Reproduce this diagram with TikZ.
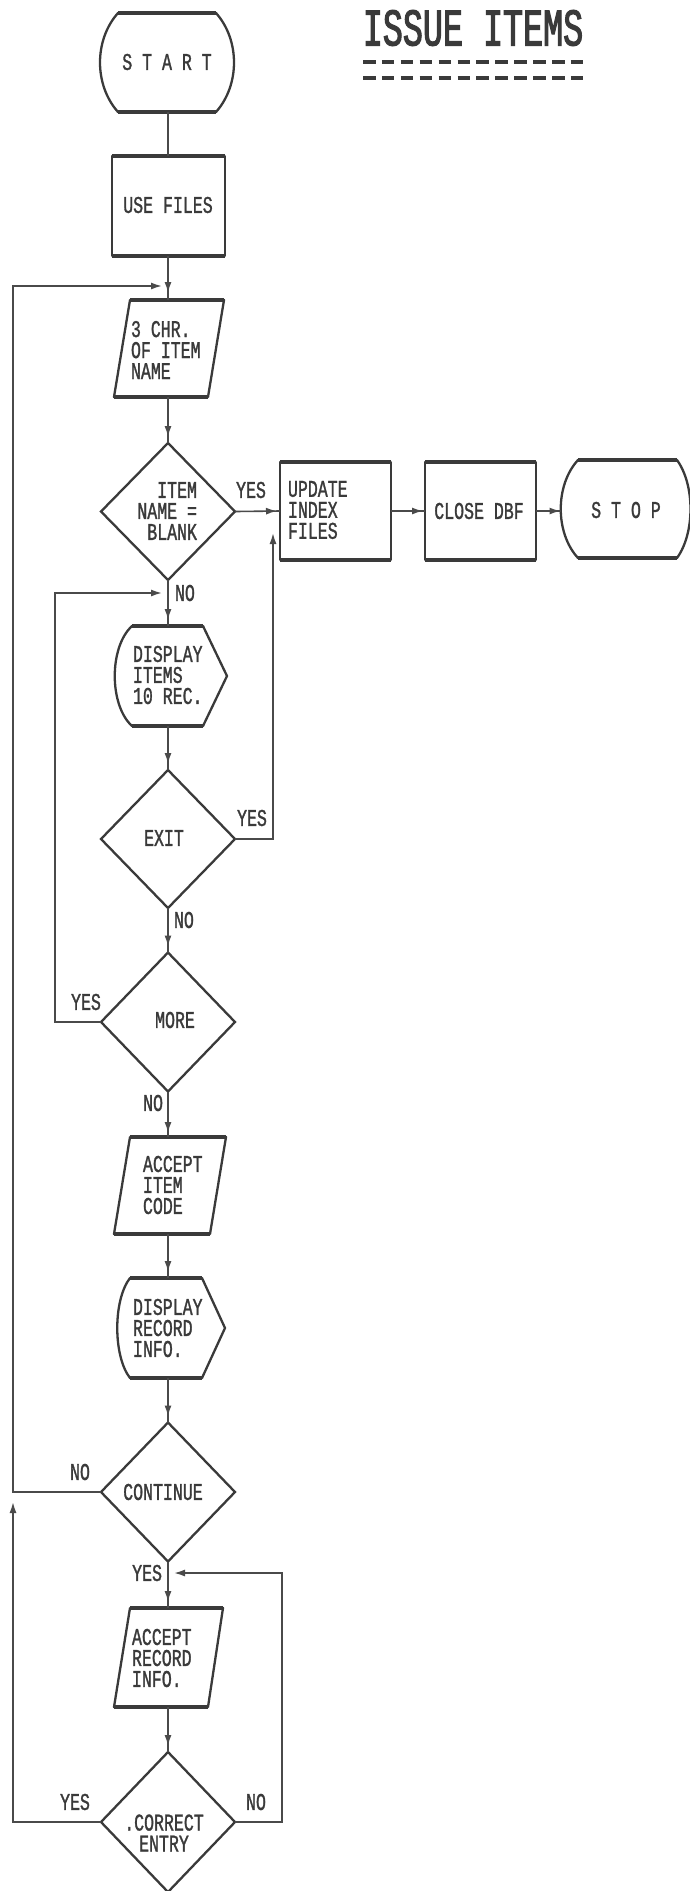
\documentclass[tikz,border=0pt]{standalone}
\usepackage{fontspec}
\usetikzlibrary{shapes.geometric,arrows.meta,decorations.markings}
\newfontfamily\pltfont[FakeStretch=0.69,FakeBold=1.2]{Liberation Mono}
\newfontfamily\titlefont[FakeStretch=0.63,FakeBold=2]{Liberation Mono}
\definecolor{ink}{HTML}{3A3A3A}
\definecolor{wire}{HTML}{4A4A4A}
\tikzset{ah/.tip={Latex[length=11pt,width=7pt]}}
\begin{document}
\begin{tikzpicture}[x=1pt,y=-1pt,
  outline/.style={draw=ink,line width=2.3pt,line join=round},
  heavy/.style={draw=ink,line width=4pt},
  hold/.style={draw=none,inner sep=0pt,outer sep=0pt,minimum width=100pt},
  dia/.style={shape=diamond,draw=ink,line width=2.3pt,inner sep=0pt,outer sep=0pt,minimum width=134pt},
  txt/.style={font=\pltfont\fontsize{24}{21}\selectfont,text=ink,inner sep=0pt,outer sep=0pt},
  wireline/.style={draw=wire,line width=1.6pt},
  flow/.style={wireline,postaction={decorate},decoration={markings,mark=at position -#1 with {\arrow{ah}}}},
  flow/.default=6pt,
  loopend/.style={wireline,-{ah}}
]
\fill[white] (0,0) rectangle (689,1891);
\useasboundingbox (0,0) rectangle (689,1891);

% ---------- title ----------
\node[font=\titlefont\fontsize{53}{53}\selectfont,text=ink,inner sep=0pt] (title) at (473,28) {ISSUE ITEMS};
\draw[ink,line width=4pt,dash pattern=on 12.5pt off 6.4pt] (363,62) -- (583,62);
\draw[ink,line width=4pt,dash pattern=on 12.5pt off 6.4pt] (363,78) -- (583,78);

% ---------- anchor holders and diamonds ----------
\node[hold,minimum height=99pt] (start) at (168,62.5) {};
\node[hold,minimum height=100pt] (use) at (168,206) {};
\node[hold,minimum height=97pt] (chr) at (168,348.5) {};
\node[dia,minimum height=137pt] (item) at (168,511.5) {};
\node[hold,minimum width=111pt,minimum height=98pt] (update) at (335.5,511) {};
\node[hold,minimum width=111pt,minimum height=98pt] (close) at (480.5,511) {};
\node[hold,minimum width=128pt,minimum height=98pt] (stop) at (625,511) {};
\node[hold,minimum height=100pt] (disp) at (168,676) {};
\node[dia,minimum height=138pt] (exit) at (168,839) {};
\node[dia,minimum height=139pt] (more) at (168,1022) {};
\node[hold,minimum height=97pt] (accitem) at (168,1185.5) {};
\node[hold,minimum height=100pt] (disprec) at (168,1328) {};
\node[dia,minimum height=139pt] (cont) at (168,1492) {};
\node[hold,minimum height=99pt] (accrec) at (168,1657.5) {};
\node[dia,minimum height=140pt] (correct) at (168,1822) {};

% ---------- drawn shapes ----------
% START terminal
\draw[outline] (118,13) -- (216,13) .. controls (240,40) and (240,85) .. (216,112) -- (118,112) .. controls (94,85) and (94,40) .. (118,13) -- cycle;
\draw[heavy] (118,13) -- (216,13); \draw[heavy] (118,112) -- (216,112);
% USE FILES
\draw[outline] (112,156) rectangle (225,256);
\draw[heavy] (112,156) -- (225,156); \draw[heavy] (112,256) -- (225,256);
% 3 CHR parallelogram
\draw[outline] (130,300) -- (224,300) -- (208,397) -- (114,397) -- cycle;
\draw[heavy] (130,300) -- (224,300); \draw[heavy] (114,397) -- (208,397);
% UPDATE
\draw[outline] (280,462) rectangle (391,560);
\draw[heavy] (280,462) -- (391,462); \draw[heavy] (280,560) -- (391,560);
% CLOSE
\draw[outline] (425,462) rectangle (536,560);
\draw[heavy] (425,462) -- (536,462); \draw[heavy] (425,560) -- (536,560);
% STOP terminal
\draw[outline] (578,460) -- (677,460) .. controls (695,485) and (695,533) .. (677,558) -- (578,558) .. controls (555,533) and (555,485) .. (578,460) -- cycle;
\draw[heavy] (578,460) -- (677,460); \draw[heavy] (578,558) -- (677,558);
% DISPLAY ITEMS
\draw[outline] (132,626) -- (203,626) -- (227,676) -- (203,726) -- (132,726) .. controls (109,705) and (109,647) .. (132,626) -- cycle;
\draw[heavy] (132,626) -- (203,626); \draw[heavy] (132,726) -- (203,726);
% ACCEPT ITEM CODE
\draw[outline] (130,1137) -- (226,1137) -- (210,1234) -- (114,1234) -- cycle;
\draw[heavy] (130,1137) -- (226,1137); \draw[heavy] (114,1234) -- (210,1234);
% DISPLAY RECORD INFO
\draw[outline] (130,1278) -- (202,1278) -- (225,1328) -- (202,1378) -- (130,1378) .. controls (113,1356) and (113,1300) .. (130,1278) -- cycle;
\draw[heavy] (130,1278) -- (202,1278); \draw[heavy] (130,1378) -- (202,1378);
% ACCEPT RECORD INFO
\draw[outline] (130,1608) -- (223,1608) -- (208,1707) -- (114,1707) -- cycle;
\draw[heavy] (130,1608) -- (223,1608); \draw[heavy] (114,1707) -- (208,1707);

% ---------- texts ----------
\node[txt] (tstart) at (167,62) {S T A R T};
\node[txt] (tuse) at (168,205) {USE FILES};
\node[txt,align=left,anchor=west] (tchr) at (131,350) {3 CHR.\\OF ITEM\\NAME};
\node[txt,align=right,anchor=east] (titem) at (197,511) {ITEM\\NAME =\\BLANK};
\node[txt] (yes1) at (251,490) {YES};
\node[txt,align=left,anchor=west] (tupdate) at (288,510) {UPDATE\\INDEX\\FILES};
\node[txt] (tclose) at (479,511) {CLOSE DBF};
\node[txt] (tstop) at (626,510) {S T O P};
\node[txt,anchor=west] (no1) at (175,593) {NO};
\node[txt,align=left,anchor=west] (tdisp) at (133,675) {DISPLAY\\ITEMS\\10 REC.};
\node[txt] (texit) at (164,838) {EXIT};
\node[txt] (yes2) at (252,818) {YES};
\node[txt,anchor=west] (no2) at (174,920) {NO};
\node[txt] (tmore) at (175,1020) {MORE};
\node[txt] (yes3) at (86,1002) {YES};
\node[txt,anchor=east] (no3) at (163,1103) {NO};
\node[txt,align=left,anchor=west] (taccitem) at (143,1185) {ACCEPT\\ITEM\\CODE};
\node[txt,align=left,anchor=west] (tdisprec) at (133,1328) {DISPLAY\\RECORD\\INFO.};
\node[txt] (tcont) at (163,1492) {CONTINUE};
\node[txt] (no4) at (80,1472) {NO};
\node[txt,anchor=east] (yes4) at (162,1573) {YES};
\node[txt,align=left,anchor=west] (taccrec) at (132,1658) {ACCEPT\\RECORD\\INFO.};
\node[txt,align=center] (tcorrect) at (164,1833) {.CORRECT\\ENTRY};
\node[txt] (yes5) at (75,1802) {YES};
\node[txt] (no5) at (256,1802) {NO};

% ---------- free ends ----------
\coordinate (L1) at (13,286);
\coordinate (T1) at (162,286);
\coordinate (L2) at (55,593);
\coordinate (T2) at (162,593);
\coordinate (R1) at (273,839);
\coordinate (T3) at (273,533);
\coordinate (L3) at (13,1822);
\coordinate (T4) at (13,1502);
\coordinate (R2) at (282,1822);
\coordinate (R3) at (282,1573);
\coordinate (T5) at (174,1573);

% ---------- connectors ----------
\draw[wireline] (start.south) -- (use.north);
\draw[flow=7pt] (use.south) -- (chr.north);
\draw[flow] (chr.south) -- (item.north);
\draw[flow=3pt] (item.east) -- (update.west);
\draw[flow=2pt] (update.east) -- (close.west);
\draw[flow=0.5pt] (close.east) -- (stop.west);
\draw[flow] (item.south) -- (disp.north);
\draw[flow] (disp.south) -- (exit.north);
\draw[flow] (exit.south) -- (more.north);
\draw[flow=4pt] (more.south) -- (accitem.north);
\draw[flow] (accitem.south) -- (disprec.north);
\draw[flow] (disprec.south) -- (cont.north);
\draw[flow] (cont.south) -- (accrec.north);
\draw[flow] (accrec.south) -- (correct.north);
\draw[loopend] (cont.west) -| (L1) -- (T1);
\draw[loopend] (more.west) -| (L2) -- (T2);
\draw[loopend] (exit.east) -- (R1) -- (T3);
\draw[loopend] (correct.west) -- (L3) -- (T4);
\draw[loopend] (correct.east) -- (R2) -- (R3) -- (T5);
\end{tikzpicture}
\end{document}
